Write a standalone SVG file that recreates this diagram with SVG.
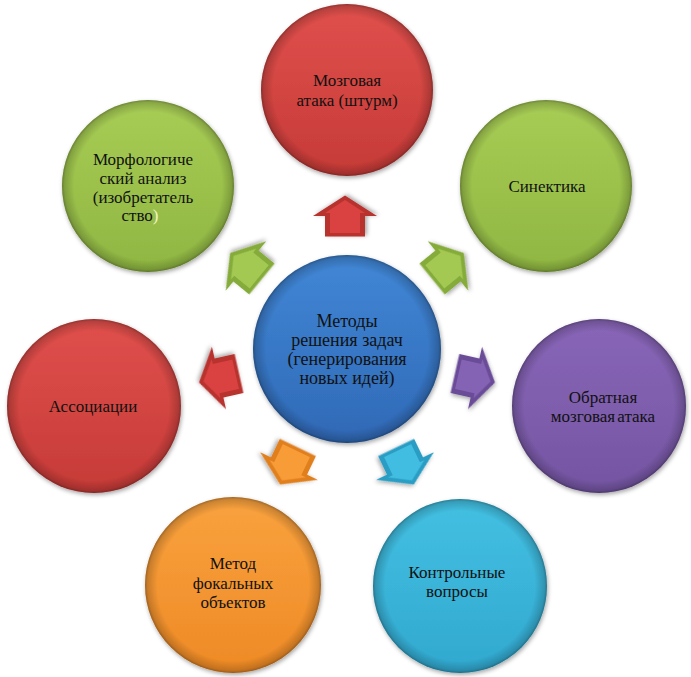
<svg xmlns="http://www.w3.org/2000/svg" width="691" height="677" viewBox="0 0 691 677">
<style>
text{font-family:'Liberation Serif','Times New Roman',serif;font-size:17px;fill:#111;text-anchor:middle}
.big{font-size:18px}
.rim{fill:url(#rim)}
</style>
<defs>
<filter id="sh" x="-20%" y="-20%" width="140%" height="140%">
<feDropShadow dx="1" dy="2" stdDeviation="2" flood-color="#000" flood-opacity="0.35"/>
</filter>
<radialGradient id="rim" cx="0.5" cy="0.5" r="0.5">
<stop offset="0.86" stop-color="#000" stop-opacity="0"/>
<stop offset="0.97" stop-color="#000" stop-opacity="0.18"/>
<stop offset="1" stop-color="#000" stop-opacity="0.35"/>
</radialGradient>
<linearGradient id="gRed" x1="0" y1="0" x2="0" y2="1"><stop offset="0" stop-color="#e0504c"/><stop offset="1" stop-color="#c53a37"/></linearGradient>
<linearGradient id="gGreen" x1="0" y1="0" x2="0" y2="1"><stop offset="0" stop-color="#a8cd55"/><stop offset="1" stop-color="#8fb642"/></linearGradient>
<linearGradient id="gBlue" x1="0" y1="0" x2="0" y2="1"><stop offset="0" stop-color="#4187d6"/><stop offset="1" stop-color="#2f69b6"/></linearGradient>
<linearGradient id="gPurple" x1="0" y1="0" x2="0" y2="1"><stop offset="0" stop-color="#8966b8"/><stop offset="1" stop-color="#7455a2"/></linearGradient>
<linearGradient id="gOrange" x1="0" y1="0" x2="0" y2="1"><stop offset="0" stop-color="#f9a23e"/><stop offset="1" stop-color="#ee8a26"/></linearGradient>
<linearGradient id="gTeal" x1="0" y1="0" x2="0" y2="1"><stop offset="0" stop-color="#43c0e2"/><stop offset="1" stop-color="#31a8cf"/></linearGradient>
<polygon id="arr" points="20.5,0 0,32 0,20 -20.5,20 -20.5,-20 0,-20 0,-32"/>
<polygon id="arrIn" points="16,0 3,20 3,15 -17,15 -17,-15 3,-15 3,-20"/>
</defs>

<g id="connectors">
<g transform="translate(345,216) rotate(-90)" filter="url(#sh)"><use href="#arr" fill="#b8302f"/><use href="#arrIn" fill="#d9433f"/></g>
<g transform="translate(448,266) rotate(-39.3)" filter="url(#sh)"><use href="#arr" fill="#85ab3a"/><use href="#arrIn" fill="#a3c952"/></g>
<g transform="translate(246,266) rotate(-140.7)" filter="url(#sh)"><use href="#arr" fill="#85ab3a"/><use href="#arrIn" fill="#a3c952"/></g>
<g transform="translate(475,378) rotate(12.7)" filter="url(#sh)"><use href="#arr" fill="#6a4c98"/><use href="#arrIn" fill="#8463b4"/></g>
<g transform="translate(219,378) rotate(167.3)" filter="url(#sh)"><use href="#arr" fill="#b8302f"/><use href="#arrIn" fill="#d9433f"/></g>
<g transform="translate(405,466) rotate(64.4)" filter="url(#sh)"><use href="#arr" fill="#2b9dc4"/><use href="#arrIn" fill="#41bde0"/></g>
<g transform="translate(289,466) rotate(115.6)" filter="url(#sh)"><use href="#arr" fill="#e07f1f"/><use href="#arrIn" fill="#f89c38"/></g>
</g>

<g id="center">
<circle cx="347" cy="349" r="94" fill="url(#gBlue)" filter="url(#sh)"/>
<circle cx="347" cy="349" r="94" class="rim"/>
<text class="big" x="347" y="327">Методы</text>
<text class="big" x="347" y="346">решения задач</text>
<text class="big" x="347" y="365">(генерирования</text>
<text class="big" x="347" y="384">новых идей)</text>
</g>

<g id="n-top">
<circle cx="347" cy="90" r="86" fill="url(#gRed)" filter="url(#sh)"/>
<circle cx="347" cy="90" r="86" class="rim"/>
<text x="347" y="86">Мозговая</text>
<text x="347" y="106">атака (штурм)</text>
</g>

<g id="n-topleft">
<circle cx="148" cy="186" r="86" fill="url(#gGreen)" filter="url(#sh)"/>
<circle cx="148" cy="186" r="86" class="rim"/>
<text x="143" y="165">Морфологиче</text>
<text x="143" y="184">ский анализ</text>
<text x="143" y="203">(изобретатель</text>
<text x="140" y="221">ство<tspan fill="#f4f4c8">)</tspan></text>
</g>

<g id="n-topright">
<circle cx="546" cy="186" r="86" fill="url(#gGreen)" filter="url(#sh)"/>
<circle cx="546" cy="186" r="86" class="rim"/>
<text x="547" y="192">Синектика</text>
</g>

<g id="n-left">
<circle cx="94" cy="406" r="87" fill="url(#gRed)" filter="url(#sh)"/>
<circle cx="94" cy="406" r="87" class="rim"/>
<text x="93" y="412">Ассоциации</text>
</g>

<g id="n-right">
<circle cx="599" cy="406" r="87" fill="url(#gPurple)" filter="url(#sh)"/>
<circle cx="599" cy="406" r="87" class="rim"/>
<text x="603" y="403">Обратная</text>
<text x="603" y="422" word-spacing="-2">мозговая атака</text>
</g>

<g id="n-bottomleft">
<circle cx="233" cy="585" r="88" fill="url(#gOrange)" filter="url(#sh)"/>
<circle cx="233" cy="585" r="88" class="rim"/>
<text x="233" y="569">Метод</text>
<text x="233" y="589">фокальных</text>
<text x="233" y="608">объектов</text>
</g>

<g id="n-bottomright">
<circle cx="460" cy="586" r="87" fill="url(#gTeal)" filter="url(#sh)"/>
<circle cx="460" cy="586" r="87" class="rim"/>
<text x="457" y="578">Контрольные</text>
<text x="457" y="597">вопросы</text>
</g>
</svg>
